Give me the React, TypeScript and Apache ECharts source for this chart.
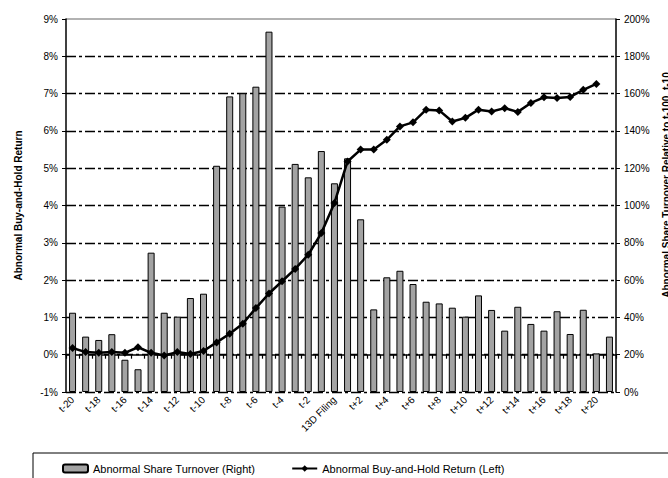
import React, { useEffect, useRef } from "react";
import * as echarts from "echarts";

const categories: string[] = [
  "t-20", "t-19", "t-18", "t-17", "t-16", "t-15", "t-14", "t-13", "t-12", "t-11",
  "t-10", "t-9", "t-8", "t-7", "t-6", "t-5", "t-4", "t-3", "t-2", "t-1",
  "13D Filing",
  "t+1", "t+2", "t+3", "t+4", "t+5", "t+6", "t+7", "t+8", "t+9", "t+10",
  "t+11", "t+12", "t+13", "t+14", "t+15", "t+16", "t+17", "t+18", "t+19", "t+20", "t+21",
];

// Abnormal share turnover (right axis, %)
const turnover: number[] = [
  42.5, 29.7, 27.9, 31, 17.3, 12.2, 74.7, 42.5, 40.4, 50.4,
  52.7, 121.3, 158.5, 160.2, 163.7, 193.2, 99.4, 122.3, 115.1, 129.2,
  111.9,
  125.3, 92.6, 44.3, 61.5, 65.0, 57.9, 48.4, 47.5, 45.2, 40.4,
  51.8, 44.0, 32.9, 45.7, 36.5, 32.9, 43.3, 31.1, 44.1, 20.7, 29.7,
];

// Abnormal buy-and-hold return (left axis, %)
const bhar: (number | null)[] = [
  0.18, 0.07, 0.05, 0.07, 0.05, 0.2, 0.05, -0.02, 0.07, 0.02,
  0.1, 0.33, 0.56, 0.83, 1.25, 1.64, 1.97, 2.3, 2.68, 3.26,
  4.07,
  5.18, 5.5, 5.5, 5.76, 6.12, 6.23, 6.57, 6.55, 6.25, 6.35,
  6.57, 6.52, 6.61, 6.51, 6.75, 6.9, 6.88, 6.91, 7.1, 7.26, null,
];

const leftName = "Abnormal Buy-and-Hold Return";
const rightName = "Abnormal Share Turnover Relative to t-100, t-10";
const barName = "Abnormal Share Turnover (Right)";
const lineName = "Abnormal Buy-and-Hold Return (Left)";

const FONT = "'Liberation Sans', Arial, sans-serif";

export default function App() {
  const ref = useRef<HTMLDivElement>(null);
  useEffect(() => {
    if (!ref.current) return;
    const chart = echarts.init(ref.current, undefined, { renderer: "svg" });
    const gridColors = [
      "#000", "#000", "#000", "#000", "#000", "#000",
      "#000", "#000", "#000", "#000", "transparent",
    ];
    chart.setOption({
      animation: false,
      backgroundColor: "#fff",
      grid: { left: 66, right: 52, top: 19, bottom: 86 },
      legend: {
        left: 57,
        top: 458,
        itemWidth: 25,
        itemHeight: 8,
        itemGap: 36,
        textStyle: { fontFamily: FONT, fontSize: 11, color: "#000" },
        data: [barName, lineName],
      },
      xAxis: {
        type: "category",
        data: categories,
        boundaryGap: true,
        axisLine: { lineStyle: { color: "#000", width: 1.5 } },
        axisTick: { show: true, interval: 0, length: 4, lineStyle: { color: "#000", width: 1.2 } },
        axisLabel: {
          show: true,
          interval: 1,
          rotate: 45,
          fontSize: 10,
          color: "#000",
          fontFamily: FONT,
          margin: 6,
        },
        splitLine: { show: false },
      },
      yAxis: [
        {
          type: "value",
          min: -1,
          max: 9,
          interval: 1,
          position: "left",
          name: leftName,
          nameLocation: "middle",
          nameGap: 43,
          nameTextStyle: { fontSize: 10, fontWeight: "bold", color: "#000", fontFamily: FONT },
          axisLine: { show: true, lineStyle: { color: "#000", width: 1.5 } },
          axisTick: { show: true, length: 4, lineStyle: { color: "#000" } },
          axisLabel: { formatter: "{value}%", fontSize: 10, color: "#000", margin: 8, fontFamily: FONT },
          splitLine: {
            show: true,
            lineStyle: { color: gridColors, width: 1.3, type: [10, 3, 3, 3] },
          },
        },
        {
          type: "value",
          min: 0,
          max: 200,
          interval: 20,
          position: "right",
          axisLine: { show: true, lineStyle: { color: "#000", width: 1.5 } },
          axisTick: { show: true, length: 4, lineStyle: { color: "#000" } },
          axisLabel: { formatter: "{value}%", fontSize: 10, color: "#000", margin: 8, fontFamily: FONT },
          splitLine: { show: false },
        },
      ],
      series: [
        {
          name: barName,
          type: "bar",
          yAxisIndex: 1,
          data: turnover,
          barWidth: 7,
          itemStyle: { color: "#a3a3a3", borderColor: "#000", borderWidth: 1 },
        },
        {
          name: lineName,
          type: "line",
          yAxisIndex: 0,
          data: bhar,
          symbol: "diamond",
          symbolSize: 8,
          lineStyle: { color: "#000", width: 2.5 },
          itemStyle: { color: "#000" },
          z: 5,
        },
      ],
      graphic: [
        {
          type: "line",
          shape: { x1: 66, y1: 19, x2: 616, y2: 19 },
          style: { stroke: "#999", lineWidth: 1.5 },
        },
        {
          type: "rect",
          shape: { x: 33, y: 453, width: 700, height: 60 },
          style: { fill: "none", stroke: "#000", lineWidth: 1 },
          z: -1,
        },
        {
          type: "text",
          x: 666,
          y: 185,
          rotation: Math.PI / 2,
          style: {
            text: rightName,
            fontSize: 10,
            fontWeight: "bold",
            fontFamily: FONT,
            fill: "#000",
            align: "center",
            verticalAlign: "middle",
          },
        },
      ],
    });
    return () => chart.dispose();
  }, []);
  return (
    <div
      ref={ref}
      style={{ position: "fixed", left: 0, top: 0, width: 668, height: 478, background: "#fff" }}
    />
  );
}
